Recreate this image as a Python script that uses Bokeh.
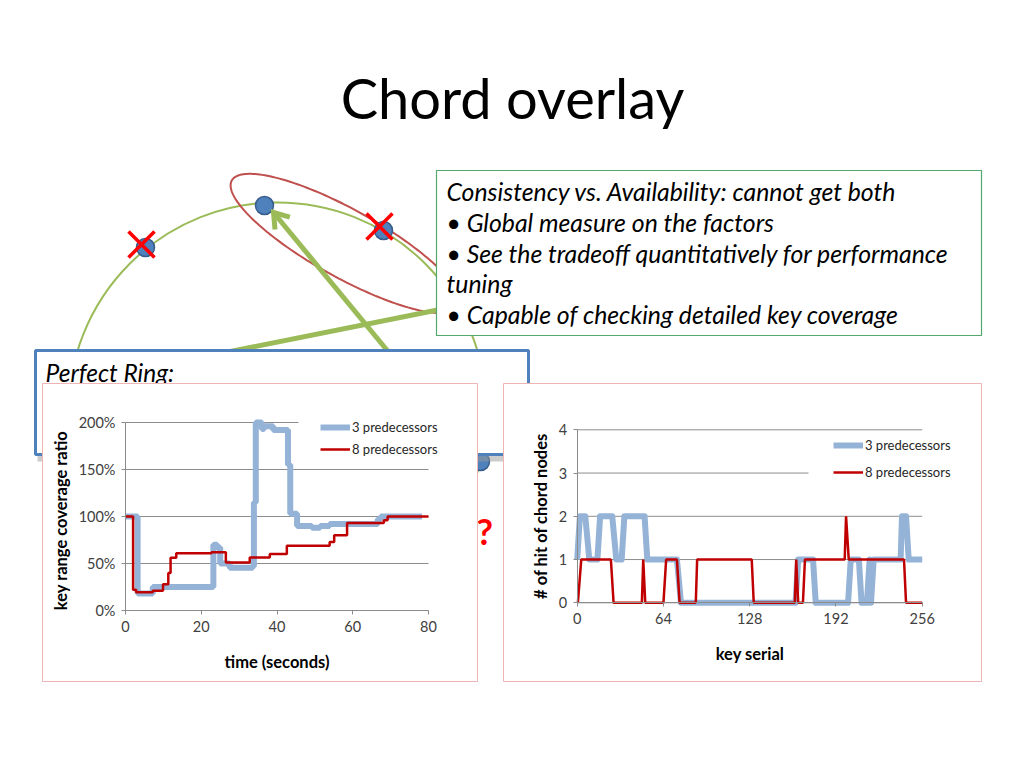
import numpy as np
from bokeh.plotting import figure
from bokeh.models import (Range1d, LinearAxis, FixedTicker, NumeralTickFormatter,
                          Legend, LegendItem)
from bokeh.core.properties import value
from bokeh.embed import file_html
from bokeh.resources import INLINE

# ---------------- data ----------------
series_names = ["3 predecessors", "8 predecessors"]

# left chart: key range coverage ratio vs time (step data)
time_3 = [0, 3.2, 7.2, 23.2, 24.2, 25.0, 27.5, 33.6, 33.9, 34.4, 36.0, 36.6, 39.0,
          42.9, 43.5, 45.3, 49.2, 51.4, 53.9, 66.6, 67.4, 78.3]
cover_3 = [1.00, 0.18, 0.25, 0.70, 0.67, 0.50, 0.455, 0.47, 1.15, 2.00, 1.93, 1.96, 1.92,
           1.55, 1.03, 0.90, 0.88, 0.90, 0.92, 0.97, 1.00, 1.00]
time_8 = [0, 2.0, 2.8, 7.2, 9.9, 11.3, 11.9, 13.4, 22.7, 26.5, 32.8, 38.1, 42.6,
          53.9, 55.1, 58.5, 68.2, 69.2, 80]
cover_8 = [1.00, 0.22, 0.195, 0.21, 0.28, 0.40, 0.56, 0.61, 0.62, 0.51, 0.565, 0.60, 0.69,
           0.73, 0.80, 0.93, 0.96, 1.00, 1.00]
time_ticks = [0, 20, 40, 60, 80]
cover_ticks = [0, 0.5, 1.0, 1.5, 2.0]

# right chart: # of hit of chord nodes vs key serial
key_3 = [0, 2, 6, 9, 15, 17, 26, 29, 33, 35, 50, 52, 74, 77, 162, 164, 175, 177, 201, 203,
         209, 211, 215, 217, 218, 220, 240, 241, 244, 246, 256]
hits_3 = [1, 2, 2, 1, 1, 2, 2, 1, 1, 2, 2, 1, 1, 0, 0, 1, 1, 0, 0, 1,
          1, 0, 0, 1, 0, 1, 1, 2, 2, 1, 1]
key_8 = [0.5, 3, 25, 27, 48, 49, 50.5, 64, 66, 74, 76, 88, 89, 129.5, 131, 161.5, 162.5,
         164, 167.5, 169, 198.5, 199.5, 201.5, 242.5, 244, 256]
hits_8 = [0, 1, 1, 0, 0, 1, 0, 0, 1, 1, 0, 0, 1, 1, 0, 0, 1,
          0, 0, 1, 1, 2, 1, 1, 0, 0]
key_ticks = [0, 64, 128, 192, 256]
hit_ticks = [0, 1, 2, 3, 4]

slide_title = "Chord overlay"
box_lines = ["Consistency vs. Availability: cannot get both",
             "\u2022 Global measure on the factors",
             "\u2022 See the tradeoff quantitatively for performance",
             "tuning",
             "\u2022 Capable of checking detailed key coverage"]

# ---------------- styles ----------------
FONT_NAME = "Lato"
FONT = value(FONT_NAME)
BLUE_S = "#95b3d7"
RED_S = "#c00000"
GREEN = "#9bbb59"
NODE = "#4f81bd"
GRID = "#8c8c8c"
TICKTXT = "#404040"

W, H = 1008, 752
X0, Y0 = 0, 0   # figure coordinates are screenshot pixels

p = figure(width=W, height=H, x_range=Range1d(X0, X0 + W), y_range=Range1d(Y0 + H, Y0),
           x_axis_type=None, y_axis_type=None, toolbar_location=None,
           output_backend="svg", min_border=0, outline_line_color=None)
p.background_fill_color = "white"
p.border_fill_color = "white"


def mapped_range(v0, v1, p0, p1, f_start, f_end):
    s = (p1 - p0) / (v1 - v0)
    return Range1d(v0 + (f_start - p0) / s, v0 + (f_end - p0) / s)


# chart plot areas in screenshot pixels
L_X = (125, 428); L_Y = (610, 422)
R_X = (576.7, 921.7); R_Y = (602.3, 429.3)
p.extra_x_ranges = {"lx": mapped_range(0, 80, L_X[0], L_X[1], X0, X0 + W),
                    "rx": mapped_range(0, 256, R_X[0], R_X[1], X0, X0 + W)}
p.extra_y_ranges = {"ly": mapped_range(0, 2, L_Y[0], L_Y[1], Y0 + H, Y0),
                    "ry": mapped_range(0, 4, R_Y[0], R_Y[1], Y0 + H, Y0)}

# ---------------- background diagram ----------------
p.circle(x=[277], y=[411], radius=209, fill_color=None, line_color=GREEN, line_width=2)
t = np.linspace(0, 2 * np.pi, 200)
th = np.radians(29)
ex = 345 + 130 * np.cos(t) * np.cos(th) - 34 * np.sin(t) * np.sin(th)
ey = 243 + 130 * np.cos(t) * np.sin(th) + 34 * np.sin(t) * np.cos(th)
p.line(ex, ey, line_color="#c0504d", line_width=2)
p.scatter([145, 264, 383], [247, 205, 230], size=18, fill_color=NODE,
          line_color="#385d8a", line_width=1.5)
for cx, cy in [(141, 244), (379, 226)]:
    p.segment([cx - 13, cx - 13], [cy - 13, cy + 13], [cx + 13, cx + 13], [cy + 13, cy - 13],
              line_color="#ff0000", line_width=3.5)


def arrow(xs, ys, xe, ye, head=17, spread=0.6, width=5):
    p.line([xs, xe], [ys, ye], line_color=GREEN, line_width=width)
    d = np.array([xs - xe, ys - ye], dtype=float)
    d /= np.hypot(*d)
    pts = []
    for a in (spread, -spread):
        rot = np.array([d[0] * np.cos(a) - d[1] * np.sin(a), d[0] * np.sin(a) + d[1] * np.cos(a)])
        pts.append((xe + head * rot[0], ye + head * rot[1]))
    p.line([pts[0][0], xe, pts[1][0]], [pts[0][1], ye, pts[1][1]], line_color=GREEN,
           line_width=width, line_join="miter")


arrow(395, 360, 273, 212)
arrow(200, 357, 452, 306.5)

p.quad(left=[436], right=[981], top=[170], bottom=[335], fill_color="white",
       line_color="#52a86a", line_width=1.2)
p.text(x=[446] * len(box_lines), y=[191, 222, 253, 283, 314], text=box_lines,
       text_font=FONT, text_font_style="italic", text_font_size="24.8px",
       text_baseline="middle", text_color="black")

p.scatter([480], [461], size=18, fill_color=NODE, line_color="#385d8a", line_width=1.5)
p.text(x=[476], y=[530], text=["?"], text_font=FONT, text_font_style="bold",
       text_font_size="36px", text_color="#ff0000", text_baseline="alphabetic")

p.quad(left=[37], right=[530], top=[452], bottom=[461], fill_color="#9a9a9a",
       fill_alpha=0.5, line_color=None)
p.quad(left=[35], right=[528], top=[350], bottom=[454], fill_color="white",
       line_color=NODE, line_width=3)
p.text(x=[45], y=[372], text=["Perfect Ring:"], text_font=FONT, text_font_style="italic",
       text_font_size="24.5px", text_baseline="middle", text_color="black")

p.text(x=[512], y=[97], text=[slide_title], text_font=FONT, text_font_size="56px",
       text_align="center", text_baseline="middle", text_color="black")

p.quad(left=[42, 503], right=[477, 981], top=[383, 383], bottom=[681, 681],
       fill_color="white", line_color="#efb4b4", line_width=1)

# ---------------- left chart ----------------
p.segment(x0=[0] * len(cover_ticks), y0=cover_ticks, x1=[80] * len(cover_ticks), y1=cover_ticks,
          line_color=GRID, line_width=1, x_range_name="lx", y_range_name="ly")
p.quad(left=[298], right=[446], top=[415], bottom=[462], fill_color="white", line_color=None)
r_b3 = p.step(time_3, cover_3, mode="after", line_color=BLUE_S, line_width=6,
              x_range_name="lx", y_range_name="ly")
r_r8 = p.step(time_8, cover_8, mode="after", line_color=RED_S, line_width=2.5,
              x_range_name="lx", y_range_name="ly")

# ---------------- right chart ----------------
p.segment(x0=[0] * len(hit_ticks), y0=hit_ticks, x1=[256] * len(hit_ticks), y1=hit_ticks,
          line_color=GRID, line_width=1, x_range_name="rx", y_range_name="ry")
p.quad(left=[808], right=[962], top=[432], bottom=[486], fill_color="white", line_color=None)
r2_b3 = p.line(key_3, hits_3, line_color=BLUE_S, line_width=6, line_join="round",
               x_range_name="rx", y_range_name="ry")
r2_r8 = p.line(key_8, hits_8, line_color=RED_S, line_width=2.5,
               x_range_name="rx", y_range_name="ry")


def style_axis(ax, label):
    ax.axis_label = label
    ax.axis_line_color = GRID
    ax.major_tick_line_color = GRID
    ax.major_tick_out = 4
    ax.major_tick_in = 0
    ax.minor_tick_line_color = None
    ax.major_label_text_font = FONT_NAME
    ax.major_label_text_font_size = "14.5px"
    ax.major_label_text_color = TICKTXT
    ax.major_label_standoff = 6
    ax.axis_label_text_font = FONT_NAME
    ax.axis_label_text_font_style = "bold"
    ax.axis_label_text_font_size = "16.5px"
    ax.axis_label_text_color = "black"
    ax.axis_label_standoff = 17


ax = LinearAxis(x_range_name="lx", y_range_name="ly", fixed_location=0, bounds=(0, 80),
                ticker=FixedTicker(ticks=time_ticks))
style_axis(ax, "time (seconds)")
p.add_layout(ax, "below")
ay = LinearAxis(x_range_name="lx", y_range_name="ly", fixed_location=0, bounds=(0, 2),
                ticker=FixedTicker(ticks=cover_ticks), formatter=NumeralTickFormatter(format="0%"))
style_axis(ay, "key  range coverage  ratio")
ay.axis_label_standoff = 5
p.add_layout(ay, "left")

bx = LinearAxis(x_range_name="rx", y_range_name="ry", fixed_location=0, bounds=(0, 256),
                ticker=FixedTicker(ticks=key_ticks))
style_axis(bx, "key serial")
p.add_layout(bx, "below")
by = LinearAxis(x_range_name="rx", y_range_name="ry", fixed_location=0, bounds=(0, 4),
                ticker=FixedTicker(ticks=hit_ticks))
style_axis(by, "# of hit of chord nodes")
by.axis_label_standoff = 5
p.add_layout(by, "left")


def legend(renderers, loc, spacing):
    lg = Legend(items=[LegendItem(label=n, renderers=[r]) for n, r in zip(series_names, renderers)],
                location=loc, orientation="vertical", glyph_width=30, glyph_height=20,
                label_height=20, label_standoff=2, padding=0, spacing=spacing, margin=0,
                border_line_color=None, background_fill_alpha=0,
                label_text_font=FONT_NAME, label_text_font_size="13px", label_text_color="#262626")
    p.add_layout(lg)


legend([r_b3, r_r8], (320 - X0, Y0 + H - 459), 2)
legend([r2_b3, r2_r8], (833 - X0, Y0 + H - 482), 7)

open("out.html", "w").write(file_html(p, INLINE))
